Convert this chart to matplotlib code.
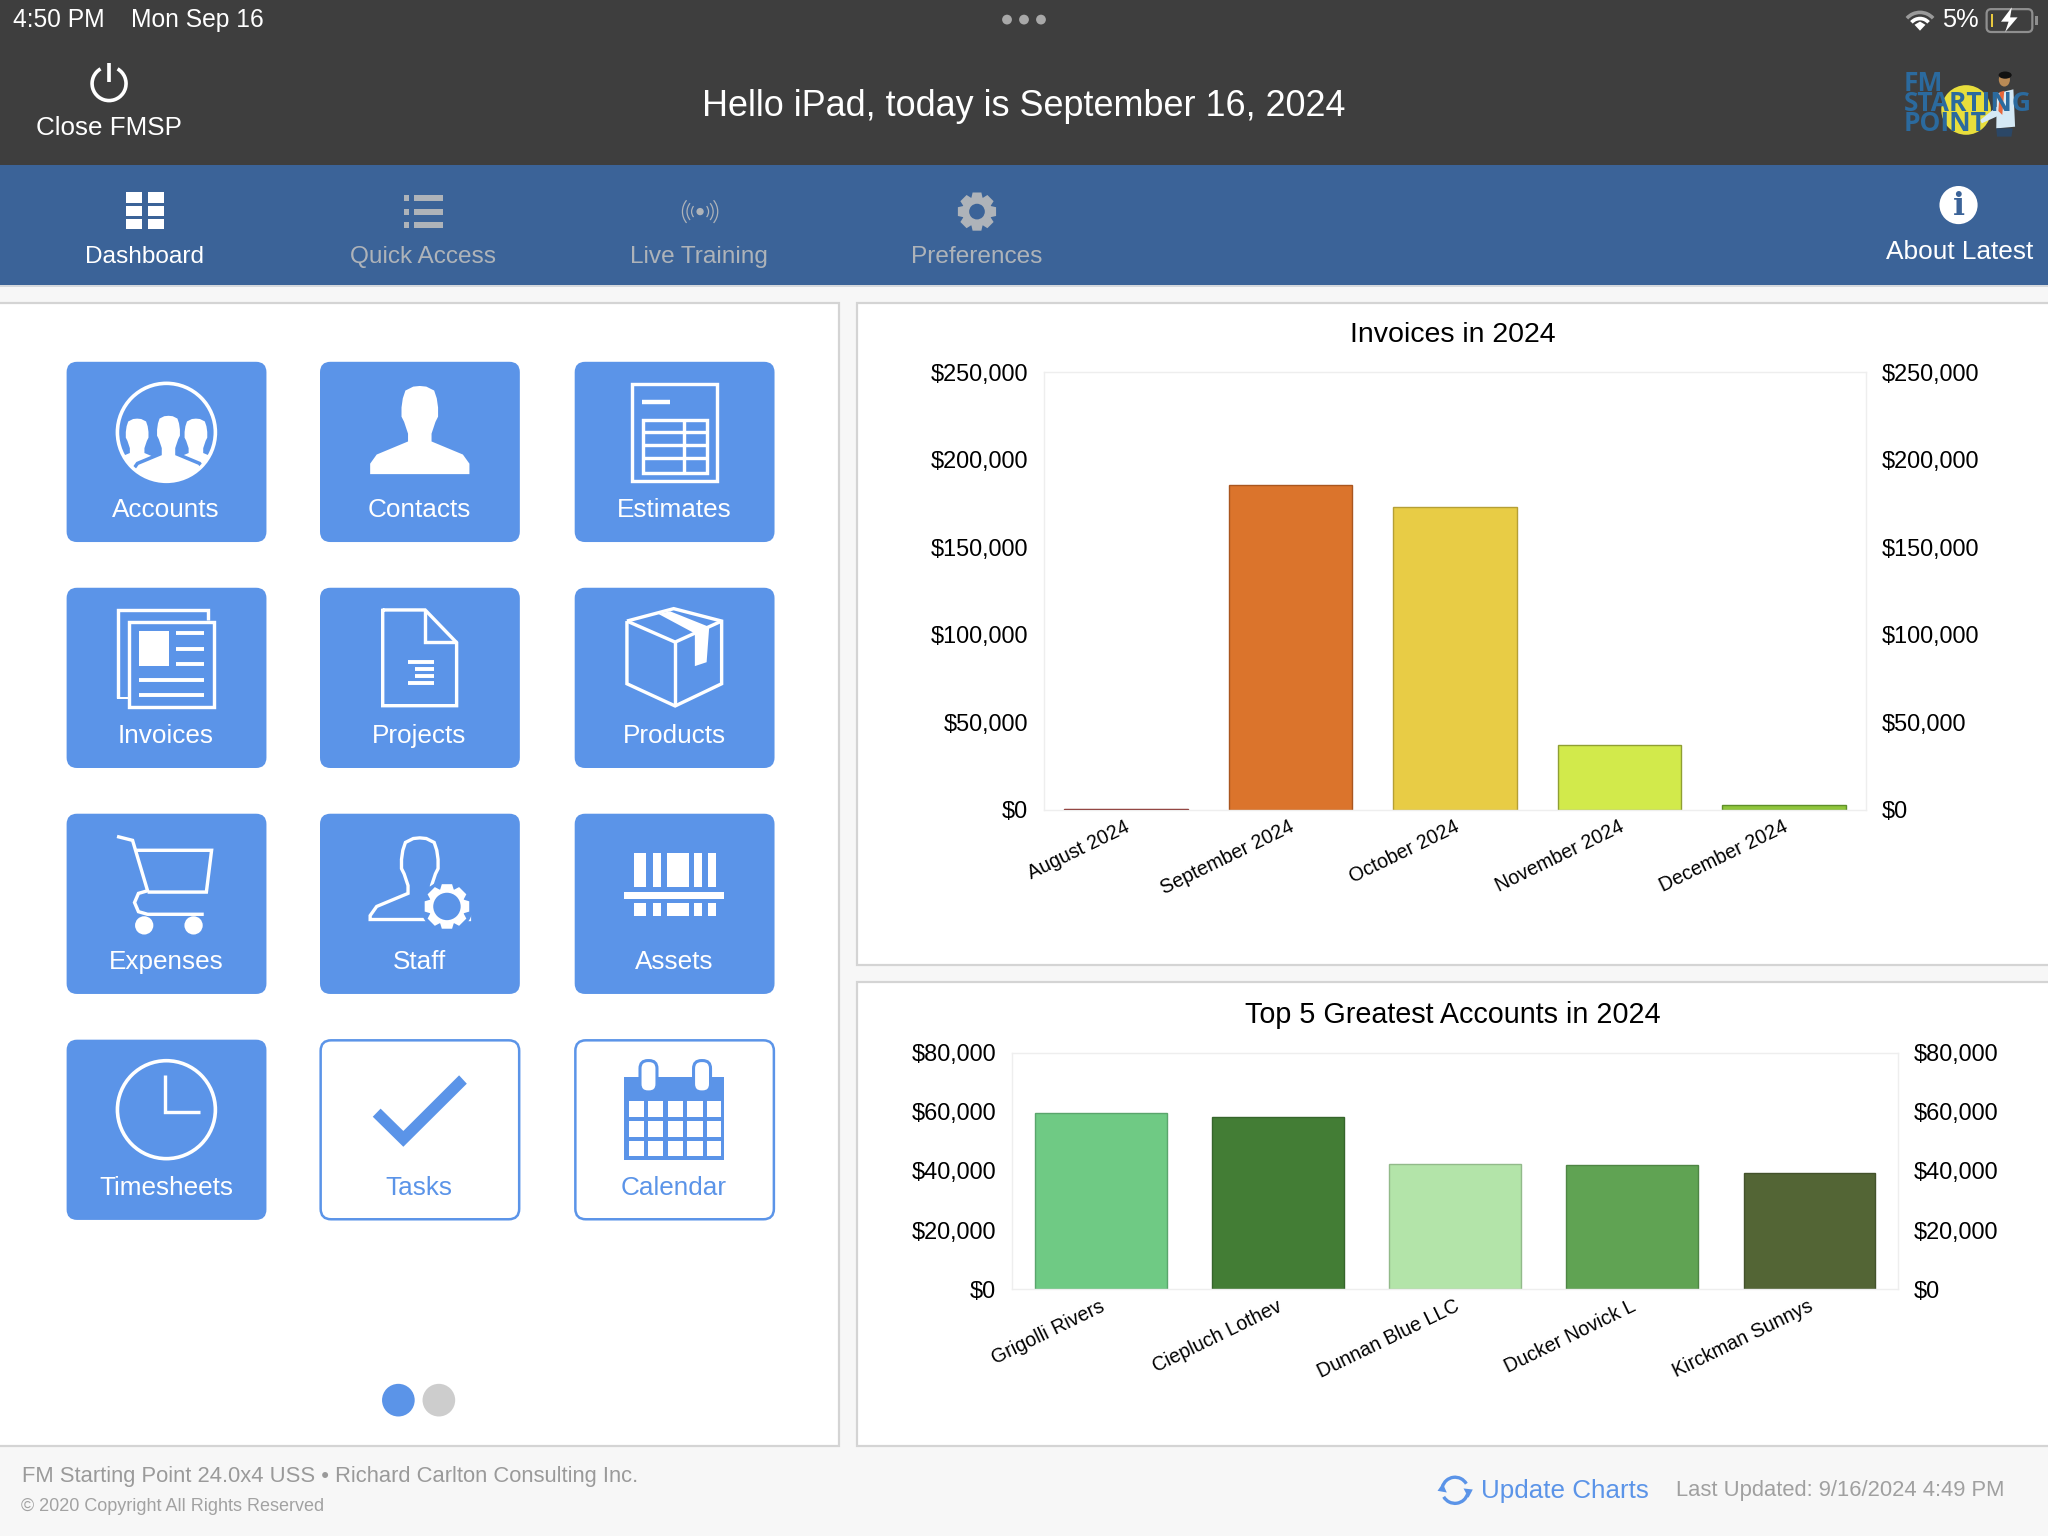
import numpy as np
import matplotlib
matplotlib.use("Agg")
import matplotlib.pyplot as plt
from matplotlib.patches import Rectangle, FancyBboxPatch, Circle, Ellipse, Polygon, Arc
from matplotlib.ticker import FuncFormatter
from matplotlib.transforms import ScaledTranslation

plt.rcParams['font.family'] = ['Liberation Sans', 'DejaVu Sans']

# chart data
invoice_months = ["August 2024", "September 2024", "October 2024", "November 2024", "December 2024"]
invoice_totals = [600, 185800, 173100, 37300, 2500]
invoice_ticks = [0, 50000, 100000, 150000, 200000, 250000]
invoice_colors = ["#b5342c", "#db742c", "#e8cc45", "#d2ea4b", "#8fc53b"]
invoice_edges = ["#7d1f1b", "#a9561f", "#b59f35", "#8f9f33", "#5e8f2a"]

account_names = ["Grigolli Rivers", "Ciepluch Lothev", "Dunnan Blue LLC", "Ducker Novick L", "Kirckman Sunnys"]
account_totals = [59700, 58300, 42500, 42000, 39300]
account_ticks = [0, 20000, 40000, 60000, 80000]
account_colors = ["#6fca84", "#437d35", "#b3e4a9", "#60a353", "#536535"]
account_edges = ["#5aa56c", "#36652b", "#92ba8a", "#4e8544", "#43522b"]

tile_names = [["Accounts", "Contacts", "Estimates"],
              ["Invoices", "Projects", "Products"],
              ["Expenses", "Staff", "Assets"],
              ["Timesheets", "Tasks", "Calendar"]]
tile_x = [51, 245, 440]
tile_y = [277, 450, 623, 796]

BLUE = "#5b94e8"
DARK = "#3e3e3e"
NAV = "#3b6398"
GREY_NAV = "#aeb3b9"

W, H = 1568, 1176
fig = plt.figure(figsize=(20.48, 15.36), dpi=100, facecolor="#f7f7f7")
bg = fig.add_axes([0, 0, 1, 1], zorder=0)
bg.set_xlim(0, W)
bg.set_ylim(H, 0)
bg.axis('off')


def fs(px):
    return px * 1.306 * 0.72


def txt(x, y, s, px, color="black", ha="center", **kw):
    return bg.text(x, y + 1.8, s, fontsize=fs(px), color=color, ha=ha, va="center", **kw)


def rect(x0, y0, x1, y1, color, **kw):
    bg.add_patch(Rectangle((x0, y0), x1 - x0, y1 - y0, facecolor=color, edgecolor="none", **kw))


def line(pts, ox=0, oy=0, color="white", lw=2.6, **kw):
    pts = np.array(pts, dtype=float)
    bg.plot(pts[:, 0] + ox, pts[:, 1] + oy, color=color, lw=lw * 0.94,
            solid_capstyle=kw.pop("cap", "butt"), solid_joinstyle="miter", **kw)


def poly(pts, ox=0, oy=0, color="white", **kw):
    pts = np.array(pts, dtype=float) + [ox, oy]
    p = Polygon(pts, closed=True, facecolor=color, edgecolor=kw.pop("edge", "none"), **kw)
    bg.add_patch(p)
    return p


def box(x0, y0, x1, y1, ox=0, oy=0, color="white", lw=2.6):
    bg.add_patch(Rectangle((x0 + ox, y0 + oy), x1 - x0, y1 - y0, facecolor="none",
                           edgecolor=color, lw=lw * 0.94))


def rounded(x, y, w, h, r, face, edge="none", lw=0):
    bg.add_patch(FancyBboxPatch((x + r, y + r), w - 2 * r, h - 2 * r,
                                boxstyle=f"round,pad={r},rounding_size={r}",
                                facecolor=face, edgecolor=edge, lw=lw))


def gear(cx, cy, r_out, r_root, r_in, color="white", hole=BLUE, teeth=8):
    pts = []
    step = 2 * np.pi / teeth
    for i in range(teeth):
        a = i * step
        for da, r in [(-0.30, r_root), (-0.18, r_out), (0.18, r_out), (0.30, r_root)]:
            pts.append((cx + r * np.cos(a + da * step * 1.6), cy + r * np.sin(a + da * step * 1.6)))
    poly(pts, color=color)
    bg.add_patch(Circle((cx, cy), r_in, facecolor=hole, edgecolor="none"))


PERSON = [(-38, 86), (-38, 78), (-33, 71), (-9, 61), (-9, 55), (-12, 46), (-14, 42), (-14, 35), (-13, 28),
          (-11, 22), (-5, 19), (0, 18.5), (5, 19), (11, 22), (13, 28), (14, 35), (14, 42), (12, 46), (9, 55),
          (9, 61), (33, 71), (38, 78), (38, 86)]


def person_pts(cx, top, scale):
    return [(cx + px * scale, top + (py - 18.5) * scale) for px, py in PERSON]


# background bands and panels
rect(0, 0, W, 126, DARK)
rect(0, 126, W, 218, NAV)
rect(0, 218, W, 220, "#d6d9dd")
for x0, y0, x1, y1 in [(-5, 232, 642, 1107), (656, 232, 1575, 739), (656, 752, 1575, 1107)]:
    bg.add_patch(Rectangle((x0, y0), x1 - x0, y1 - y0, facecolor="white", edgecolor="#d4d4d4", lw=1.6))

# status bar
txt(10, 13.5, "4:50 PM", 18.9, "white", ha="left")
txt(100, 13.5, "Mon Sep 16", 18.9, "white", ha="left")
for dx in (771, 784, 797):
    bg.add_patch(Ellipse((dx, 15), 7.5, 7.5, facecolor="#a8a8a8", edgecolor="none"))
for r, c in [(13.5, "#9a9a9a"), (8.8, "white")]:
    bg.add_patch(Arc((1470, 23), 2 * r, 2 * r, theta1=222, theta2=318, color=c, lw=2.6))
poly([(1470, 23.5), (1465.8, 19), (1470, 16.5), (1474.2, 19)], color="white")
txt(1487, 13.5, "5%", 19.4, "white", ha="left")
rounded(1521, 7, 35, 17.5, 3.5, "none", "#8f8f8f", 1.6)
rect(1524, 10.5, 1526, 20.5, "#e8c93f")
rect(1558, 12, 1560, 19, "#8f8f8f")
poly([(1540.3, 5.6), (1532, 16.6), (1537.8, 16.6), (1535.2, 24.5), (1544.7, 13.3), (1539, 13.3)], color="white")

# header
bg.add_patch(Arc((83.5, 64), 26, 26, theta1=-60, theta2=240, color="white", lw=2.6))
line([(83.5, 48), (83.5, 63)], lw=2.8)
txt(83.5, 96.5, "Close FMSP", 19.9, "white")
txt(784, 80, "Hello iPad, today is September 16, 2024", 27.6, "white")

# logo
bg.add_patch(Circle((1505.3, 84.2), 19, facecolor="#e8de3c", edgecolor="none"))
poly([(1528.8, 71.5), (1541.5, 68.4), (1542.8, 97), (1528.4, 98.3)], color="#d5e9f5")
poly([(1516.1, 91.9), (1528.8, 81.7), (1531.4, 88), (1517.3, 94.4)], color="#d5e9f5")
poly([(1528.4, 98.3), (1541, 98.3), (1540, 104.6), (1529, 104.6)], color="#2b4766")
poly([(1531, 70.5), (1534.5, 69.5), (1533, 88), (1530, 85)], color="#e8663a")
bg.add_patch(Ellipse((1534.6, 61), 8.5, 10.5, facecolor="#b98a55", edgecolor="none"))
bg.add_patch(Ellipse((1535.2, 57.5), 10, 5.5, facecolor="#111111", edgecolor="none"))
bg.text(1457.5, 79.5, "FM\nSTARTING\nPOINT", fontsize=fs(20.2), family="Open Sans", fontweight="bold",
        color="#2b6a9e", ha="left", va="center", linespacing=0.67)

# nav bar
for x0, x1 in [(96.7, 109), (113.3, 125.7)]:
    for y0, y1 in [(147.3, 155.2), (157.7, 165.4), (168, 175.6)]:
        rect(x0, y0, x1, y1, "white")
for y0, y1 in [(149.6, 154.2), (160, 164.6), (170.2, 174.8)]:
    rect(309.3, y0, 313.2, y1, GREY_NAV)
    rect(316.9, y0, 338.9, y1, GREY_NAV)
bg.add_patch(Circle((536, 162), 2.8, facecolor=GREY_NAV, edgecolor="none"))
for r in (6.5, 10, 13.5):
    bg.add_patch(Arc((536, 162), 2 * r, 2 * r, theta1=-40, theta2=40, color=GREY_NAV, lw=0.9))
    bg.add_patch(Arc((536, 162), 2 * r, 2 * r, theta1=140, theta2=220, color=GREY_NAV, lw=0.9))
gear(748, 162, 15, 11.5, 6, GREY_NAV, NAV)
bg.add_patch(Circle((1499.5, 157), 14.6, facecolor="white", edgecolor="none"))
bg.text(1499.5, 158, "i", fontsize=fs(24), family="DejaVu Serif", fontweight="bold", color=NAV,
        ha="center", va="center")
txt(111, 195, "Dashboard", 18.7, "white")
txt(323.5, 195, "Quick Access", 18.7, GREY_NAV)
txt(535.5, 195, "Live Training", 18.7, GREY_NAV)
txt(748, 195, "Preferences", 18.7, GREY_NAV)
txt(1500, 191, "About Latest", 20.1, "white")

# tiles
for r, row in enumerate(tile_names):
    for c, name in enumerate(row):
        x, y = tile_x[c], tile_y[r]
        if name in ("Tasks", "Calendar"):
            rounded(x + 0.5, y + 0.5, 152, 137, 8, "white", BLUE, 1.8)
            tc = BLUE
        else:
            rounded(x, y, 153, 138, 8, BLUE)
            tc = "white"
        txt(x + 76, y + 112, name, 20, tc)


def ox_oy(name):
    for r, row in enumerate(tile_names):
        if name in row:
            return tile_x[row.index(name)], tile_y[r]


# Accounts
ox, oy = ox_oy("Accounts")
clip = Circle((ox + 76.4, oy + 54), 37, transform=bg.transData)
for cx in (ox + 54, ox + 99):
    p = poly(person_pts(cx, oy + 43.5, 0.62) + [(cx + 30, oy + 100), (cx - 30, oy + 100)])
    p.set_clip_path(clip)
p = poly(person_pts(ox + 78, oy + 40, 0.72) + [(ox + 118, oy + 100), (ox + 38, oy + 100)], edge=BLUE, lw=2.5)
p.set_clip_path(clip)
bg.add_patch(Circle((ox + 76.4, oy + 54), 37.5, facecolor="none", edgecolor="white", lw=2.6))

# Contacts
ox, oy = ox_oy("Contacts")
poly(person_pts(ox + 76.4, oy + 18.5, 1.0))

# Estimates
ox, oy = ox_oy("Estimates")
box(44, 17, 109, 91, ox, oy)
line([(51.5, 30.6), (72.7, 30.6)], ox, oy, lw=3.4)
box(52, 44.5, 101, 85, ox, oy)
line([(83.5, 44), (83.5, 85)], ox, oy)
for yy in (54, 63.8, 73.7):
    line([(52, yy), (101, yy)], ox, oy)

# Invoices
ox, oy = ox_oy("Invoices")
line([(39.6, 84.6), (39.6, 17), (108, 17), (108, 25)], ox, oy)
rect(ox + 38.5, oy + 83.5, ox + 47, oy + 85.5, "white")
box(47.5, 26, 113, 91, ox, oy)
rect(ox + 55.7, oy + 33, ox + 78.3, oy + 60, "white")
for yy in (34.7, 46.7, 58.5):
    line([(84, yy), (105, yy)], ox, oy, lw=3)
for yy in (70.5, 82.3):
    line([(55.7, yy), (105, yy)], ox, oy, lw=3)

# Projects
ox, oy = ox_oy("Projects")
line([(48, 17), (80.5, 17), (104.6, 42), (104.6, 90.3), (48, 90.3), (48, 16)], ox, oy)
line([(80.5, 17), (80.5, 41.9), (104.6, 41.9)], ox, oy)
for x0, yy in [(67.5, 56.7), (73, 62.4), (73, 67.8), (67.5, 73.2)]:
    line([(x0, yy), (87.2, yy)], ox, oy, lw=3)

# Products
ox, oy = ox_oy("Products")
line([(40, 25.5), (75.8, 16), (112.5, 25.5), (112.5, 73.5), (76.9, 90.5), (40, 73.5), (40, 25.5)], ox, oy)
line([(40, 25.5), (76.9, 41.6), (112.5, 25.5)], ox, oy)
line([(76.9, 41.6), (76.9, 90.5)], ox, oy)
poly([(64, 20), (73, 18), (103, 30), (101, 57), (92, 60), (92, 35)], ox, oy)

# Expenses
ox, oy = ox_oy("Expenses")
line([(38.6, 17.4), (50.5, 20.4), (62, 59), (55, 61), (52, 68), (55, 75), (62, 77), (105, 77)], ox, oy)
line([(53, 28), (111, 28), (107, 60), (62, 60)], ox, oy)
for wx in (59.4, 97.2):
    bg.add_patch(Circle((ox + wx, oy + 85.5), 7, facecolor="white", edgecolor="none"))

# Staff
ox, oy = ox_oy("Staff")
sp = [(px, min(py, 81)) for px, py in person_pts(76.4, 18.5, 1.0)]
poly(sp, ox, oy, color=BLUE, edge="white", lw=2.4)
bg.add_patch(Circle((ox + 97.2, oy + 71), 20, facecolor=BLUE, edgecolor="none"))
gear(ox + 97.2, oy + 71, 17.5, 14, 10.5)

# Assets
ox, oy = ox_oy("Assets")
for x0, x1 in [(45.3, 54.9), (59.7, 65.7), (70.5, 87.2), (91.3, 97.6), (102, 108)]:
    rect(ox + x0, oy + 30, ox + x1, oy + 56.4, "white")
    rect(ox + x0, oy + 68.4, ox + x1, oy + 78.6, "white")
rect(ox + 38, oy + 59.7, ox + 114.6, oy + 65.3, "white")

# Timesheets
ox, oy = ox_oy("Timesheets")
bg.add_patch(Circle((ox + 76.4, oy + 53.6), 37.5, facecolor="none", edgecolor="white", lw=2.6))
line([(75, 27), (75, 55), (102.4, 55)], ox, oy)

# Tasks
ox, oy = ox_oy("Tasks")
poly([(40.4, 59), (46.4, 52.8), (63.8, 69.9), (106.5, 27.3), (112.4, 33.7), (63.8, 82)], ox, oy, color=BLUE)

# Calendar
ox, oy = ox_oy("Calendar")
rect(ox + 38, oy + 28.6, ox + 114.6, oy + 92.4, BLUE)
for y0, y1 in [(47.2, 59.5), (62.2, 74.2), (77.2, 89.4)]:
    for x0, x1 in [(41.2, 52.7), (56, 67.9), (71.2, 82.7), (86.2, 98), (101, 111.7)]:
        rect(ox + x0, oy + y0, ox + x1, oy + y1, "white")
for x0 in (50, 91):
    rounded(ox + x0, oy + 16, 13, 24, 6, "white", BLUE, 2.2)

# pager dots
bg.add_patch(Circle((305, 1072), 12.5, facecolor=BLUE, edgecolor="none"))
bg.add_patch(Circle((336, 1072), 12.5, facecolor="#cdcdcd", edgecolor="none"))

# footer
txt(17, 1128.5, "FM Starting Point 24.0x4 USS \u2022 Richard Carlton Consulting Inc.", 16.84, "#9a9a9a", ha="left")
txt(16, 1151.5, "\u00a9 2020 Copyright All Rights Reserved", 13.8, "#a2a2a2", ha="left")
txt(1134, 1139.5, "Update Charts", 19.9, BLUE, ha="left")
txt(1283, 1139.5, "Last Updated: 9/16/2024 4:49 PM", 16.8, "#a0a0a0", ha="left")
bg.add_patch(Arc((1114, 1141), 20, 20, theta1=195, theta2=330, color=BLUE, lw=2.4))
bg.add_patch(Arc((1114, 1141), 20, 20, theta1=15, theta2=150, color=BLUE, lw=2.4))
poly([(1100.6, 1141.4), (1107.7, 1142.7), (1104.6, 1135.7)], color=BLUE)
poly([(1127.6, 1140.4), (1120.5, 1139.6), (1124.3, 1146.7)], color=BLUE)
# panel titles
txt(1112, 255, "Invoices in 2024", 21.8)
txt(1112, 775.5, "Top 5 Greatest Accounts in 2024", 22)


def money(v, _pos=None):
    return f"${v:,.0f}"


def bar_chart(left, top, right, bottom, labels, values, ticks, colors, edges, width, pad_y, pad_x):
    ax = fig.add_axes([left / W, 1 - bottom / H, (right - left) / W, (bottom - top) / H], zorder=2)
    ax.patch.set_alpha(0)
    xs = np.arange(len(labels))
    ax.bar(xs, values, width=width, color=colors, edgecolor=edges, linewidth=1.0)
    ax.set_xlim(-0.5, len(labels) - 0.5)
    ax.set_ylim(ticks[0], ticks[-1])
    ax.set_yticks(ticks)
    ax.yaxis.set_major_formatter(FuncFormatter(money))
    ax.set_xticks(xs)
    ax.set_xticklabels(labels, rotation=26, ha="right", rotation_mode="anchor", fontsize=fs(15))
    ax.tick_params(axis="x", length=0, pad=pad_x)
    ax.tick_params(axis="y", length=0, pad=pad_y, labelsize=fs(18))
    shift = ScaledTranslation(-1 * 1.306 / 100, 0, fig.dpi_scale_trans)
    for lab in ax.get_xticklabels():
        lab.set_transform(lab.get_transform() + shift)
    for s in ax.spines.values():
        s.set_color("#eeeeee")
        s.set_linewidth(1.0)
    ax2 = ax.twinx()
    ax2.set_ylim(ax.get_ylim())
    ax2.set_yticks(ticks)
    ax2.yaxis.set_major_formatter(FuncFormatter(money))
    ax2.tick_params(axis="y", length=0, pad=pad_y, labelsize=fs(18))
    for s in ax2.spines.values():
        s.set_visible(False)
    return ax


bar_chart(799, 285, 1429, 620, invoice_months, invoice_totals, invoice_ticks,
          invoice_colors, invoice_edges, 0.75, 11, 5.5)
bar_chart(775, 806, 1453, 987, account_names, account_totals, account_ticks,
          account_colors, account_edges, 0.742, 11.5, 5.5)

fig.savefig("out.png", dpi=100, facecolor=fig.get_facecolor())
